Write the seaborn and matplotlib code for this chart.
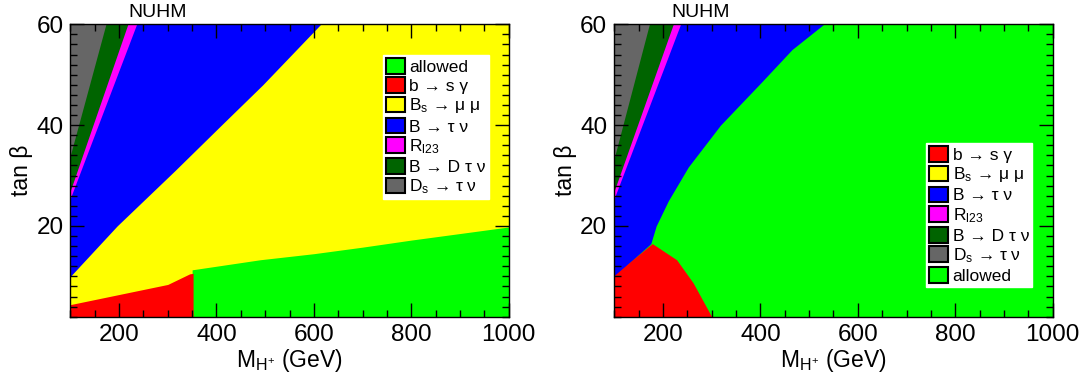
import matplotlib
matplotlib.use("Agg")
import matplotlib.pyplot as plt
from matplotlib.patches import Patch
from matplotlib.ticker import MultipleLocator
import seaborn as sns

# plot ranges
XLIM = (100, 1000)
YLIM = (2, 60)

# constraint colours
C_ALLOWED = '#00ff00'
C_BSG = '#ff0000'
C_BSMM = '#ffff00'
C_BTN = '#0000ff'
C_RL23 = '#ff00ff'
C_BDTN = '#006400'
C_DSTN = '#666666'

LABELS = {
    'allowed': 'allowed',
    'bsg': r'b → s γ',
    'bsmm': r'B$_\mathrm{s}$ → μ μ',
    'btn': r'B → τ ν',
    'rl23': r'R$_\mathrm{l23}$',
    'bdtn': r'B → D τ ν',
    'dstn': r'D$_\mathrm{s}$ → τ ν',
}

# ---- left panel: region edges ----
# wedges at high tan(beta), low M_H+ (x of the edge vs tan beta)
L_gray_tb = [34, 60]
L_gray_mh = [100, 173]
L_bdtn_tb = [27, 60]
L_bdtn_mh = [100, 218]
L_rl23_tb = [25.5, 60]
L_rl23_mh = [100, 236]
# B -> tau nu / Bs -> mu mu edge
L_btn_tb = [10, 20, 31, 40, 48, 60]
L_btn_mh = [100, 196, 315, 410, 495, 614]
# b -> s gamma excluded at low mass
L_bsg_mh = [100, 200, 300, 345, 352]
L_bsg_tb = [4.4, 6.4, 8.4, 10.5, 10.6]
# allowed region (below this edge)
L_ok_mh = [350, 490, 600, 700, 800, 900, 1000]
L_ok_tb = [11.3, 13.3, 14.5, 15.8, 17.2, 18.5, 19.8]

# ---- right panel ----
R_gray_tb = [33.5, 60]
R_gray_mh = [100, 172]
R_bdtn_tb = [27, 60]
R_bdtn_mh = [100, 221]
R_rl23_tb = [25.5, 60]
R_rl23_mh = [100, 236]
R_btn_tb = [10, 16.5, 20, 25, 31.7, 40, 48.3, 55, 60]
R_btn_mh = [100, 175, 186, 211, 252, 318, 400, 465, 530]
R_bsg_mh = [100, 140, 178, 228, 262, 300]
R_bsg_tb = [10.2, 13.5, 16.5, 13.3, 8.7, 2.0]

sns.set_theme(style='ticks')
plt.rcParams['font.family'] = ['Liberation Sans', 'DejaVu Sans']
plt.rcParams['mathtext.fontset'] = 'custom'
plt.rcParams['mathtext.rm'] = 'Liberation Sans'
plt.rcParams['mathtext.it'] = 'Liberation Sans:italic'
plt.rcParams['mathtext.bf'] = 'Liberation Sans:bold'
plt.rcParams['text.color'] = 'black'
plt.rcParams['axes.labelcolor'] = 'black'
plt.rcParams['xtick.labelcolor'] = 'black'
plt.rcParams['ytick.labelcolor'] = 'black'


def style_axes(ax):
    ax.set_axisbelow(False)
    ax.set_xlim(*XLIM)
    ax.set_ylim(*YLIM)
    ax.xaxis.set_major_locator(MultipleLocator(200))
    ax.xaxis.set_minor_locator(MultipleLocator(50))
    ax.yaxis.set_major_locator(MultipleLocator(20))
    ax.yaxis.set_minor_locator(MultipleLocator(2))
    ax.tick_params(which='both', direction='in', top=True, right=True,
                   color='black', width=1)
    ax.tick_params(which='major', length=10, labelsize=17.5, pad=5)
    ax.tick_params(which='minor', length=5)
    for s in ax.spines.values():
        s.set_color('black')
        s.set_linewidth(1)
        s.set_zorder(5)
    ax.set_xlabel(r'M$_{\mathrm{H}^{+}}$ (GeV)', fontsize=16.5, labelpad=1)
    ax.set_ylabel('tan β', fontsize=16.5, labelpad=2)
    ax.text(0.198, 1.012, 'NUHM', transform=ax.transAxes, ha='center',
            va='bottom', fontsize=14)


def wedges(ax, gray, bdtn, rl23):
    # drawn back to front so each wedge sits on the wider one
    ax.fill_betweenx(rl23[0], XLIM[0], rl23[1], color=C_RL23, lw=0)
    ax.fill_betweenx(bdtn[0], XLIM[0], bdtn[1], color=C_BDTN, lw=0)
    ax.fill_betweenx(gray[0], XLIM[0], gray[1], color=C_DSTN, lw=0)


def legend(ax, keys, anchor):
    cmap = {'allowed': C_ALLOWED, 'bsg': C_BSG, 'bsmm': C_BSMM, 'btn': C_BTN,
            'rl23': C_RL23, 'bdtn': C_BDTN, 'dstn': C_DSTN}
    handles = [Patch(facecolor=cmap[k], edgecolor='black', lw=1.5,
                     label=LABELS[k]) for k in keys]
    leg = ax.legend(handles=handles, loc='upper left', bbox_to_anchor=anchor,
                    fontsize=12.5, frameon=True, fancybox=False,
                    handlelength=1.1, handleheight=1.0, handletextpad=0.25,
                    labelspacing=0.14, borderpad=0.18, borderaxespad=0)
    leg.get_frame().set_facecolor('white')
    leg.get_frame().set_edgecolor('white')
    leg.get_frame().set_alpha(1)
    leg.set_zorder(10)


fig = plt.figure(figsize=(10.87, 3.85), dpi=100)
ax1 = fig.add_axes([0.0647, 0.1774, 0.4033, 0.7595])
ax2 = fig.add_axes([0.5651, 0.1774, 0.4033, 0.7595])

# left panel
ax1.fill_between(XLIM, YLIM[0], YLIM[1], color=C_BSMM, lw=0)
ax1.fill_between(L_ok_mh, YLIM[0], L_ok_tb, color=C_ALLOWED, lw=0)
ax1.fill_between(L_bsg_mh, YLIM[0], L_bsg_tb, color=C_BSG, lw=0)
ax1.fill_betweenx(L_btn_tb, XLIM[0], L_btn_mh, color=C_BTN, lw=0)
wedges(ax1, (L_gray_tb, L_gray_mh), (L_bdtn_tb, L_bdtn_mh),
       (L_rl23_tb, L_rl23_mh))
style_axes(ax1)
legend(ax1, ['allowed', 'bsg', 'bsmm', 'btn', 'rl23', 'bdtn', 'dstn'],
       (0.713, 0.895))

# right panel
ax2.fill_between(XLIM, YLIM[0], YLIM[1], color=C_ALLOWED, lw=0)
ax2.fill_betweenx(R_btn_tb, XLIM[0], R_btn_mh, color=C_BTN, lw=0)
ax2.fill_between(R_bsg_mh, YLIM[0], R_bsg_tb, color=C_BSG, lw=0)
wedges(ax2, (R_gray_tb, R_gray_mh), (R_bdtn_tb, R_bdtn_mh),
       (R_rl23_tb, R_rl23_mh))
style_axes(ax2)
legend(ax2, ['bsg', 'bsmm', 'btn', 'rl23', 'bdtn', 'dstn', 'allowed'],
       (0.711, 0.594))

fig.savefig('out.png', dpi=100)
